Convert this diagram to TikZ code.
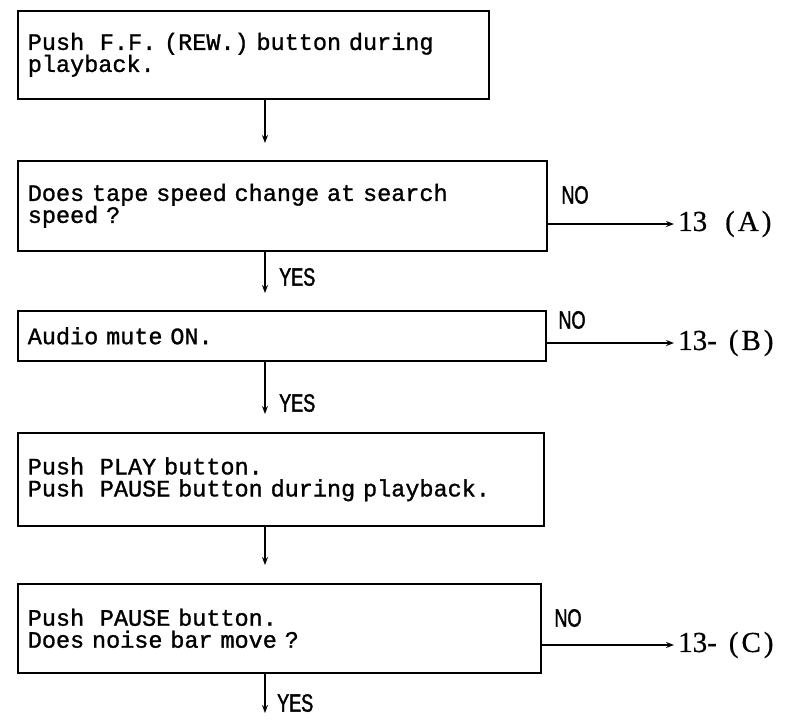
\documentclass[tikz,border=0pt]{standalone}
\usepackage{fontspec}
\newfontfamily\boxfont[FakeBold=1.2]{Liberation Mono}
\newfontfamily\tagfont[FakeStretch=0.72,FakeBold=1.6]{Liberation Sans}
\newfontfamily\exitfont[FakeBold=0.6]{Liberation Serif}
\newcommand\monospaces{\spaceskip=0.6em\relax\xspaceskip=0.6em\relax}
\usetikzlibrary{arrows.meta,calc}

\tikzset{
  stepbox/.style={draw, line width=1.6pt, anchor=north west, inner xsep=10pt, inner ysep=0pt,
    align=left, font=\boxfont\fontsize{23.5}{22}\selectfont\monospaces},
  flow/.style={line width=1.3pt, -{Stealth[length=8pt,width=6pt]}},
  yesno/.style={font=\tagfont\fontsize{25}{25}\selectfont, inner sep=1pt},
  exit/.style={anchor=west, font=\exitfont\fontsize{29}{29}\selectfont, inner sep=4pt}
}

\begin{document}
\begin{tikzpicture}[x=1pt, y=-1pt]
    \useasboundingbox (0,0) rectangle (797,721);

    % Define the steps
    \node[stepbox, text width=451pt, minimum height=88pt] (b1) at (17,10)
        {Push\ \ F.F. (REW.) button during\\playback.};
    \node[stepbox, text width=509pt, minimum height=90pt] (b2) at (17,160)
        {Does tape speed change at search\\speed ?};
    \node[stepbox, text width=508pt, minimum height=50pt] (b3) at (17,310)
        {Audio mute ON.};
    \node[stepbox, text width=506pt, minimum height=93pt] (b4) at (17,432)
        {Push\ \ PLAY button.\\Push\ \ PAUSE button during playback.};
    \node[stepbox, text width=503pt, minimum height=89pt] (b5) at (17,583)
        {Push\ \ PAUSE button.\\Does noise bar move ?};

    % Arrow ends in the main column
    \coordinate (t1) at (265,143);
    \coordinate (t2) at (265,293);
    \coordinate (t3) at (265,414);
    \coordinate (t4) at (265,565);
    \coordinate (t5) at (265,713);

    % Draw the main flow
    \draw[flow] (b1.south -| t1) -- (t1);
    \draw[flow] (b2.south -| t2) -- (t2);
    \draw[flow] (b3.south -| t3) -- (t3);
    \draw[flow] (b4.south -| t4) -- (t4);
    \draw[flow] (b5.south -| t5) -- (t5);
    \node[yesno, anchor=west] (y2) at (278,277) {YES};
    \node[yesno, anchor=west] (y3) at (278,403) {YES};
    \node[yesno, anchor=west] (y5) at (276,703) {YES};

    % Exits on the NO side
    \node[exit] (r2) at (674,224) {13\hspace{18pt}(\kern3pt A\kern3pt)};
    \node[exit] (r3) at (674,343) {13-\hspace{12pt}(\kern3pt B\kern3pt)};
    \node[exit] (r5) at (674,645) {13-\hspace{12pt}(\kern3pt C\kern3pt)};
    \draw[flow] (b2.east |- r2.west) -- (r2.west);
    \draw[flow] (b3.east |- r3.west) -- (r3.west);
    \draw[flow] (b5.east |- r5.west) -- (r5.west);
    \node[yesno] (n2) at (575,195) {NO};
    \node[yesno] (n3) at (572,320) {NO};
    \node[yesno] (n5) at (568,618) {NO};
\end{tikzpicture}
\end{document}
